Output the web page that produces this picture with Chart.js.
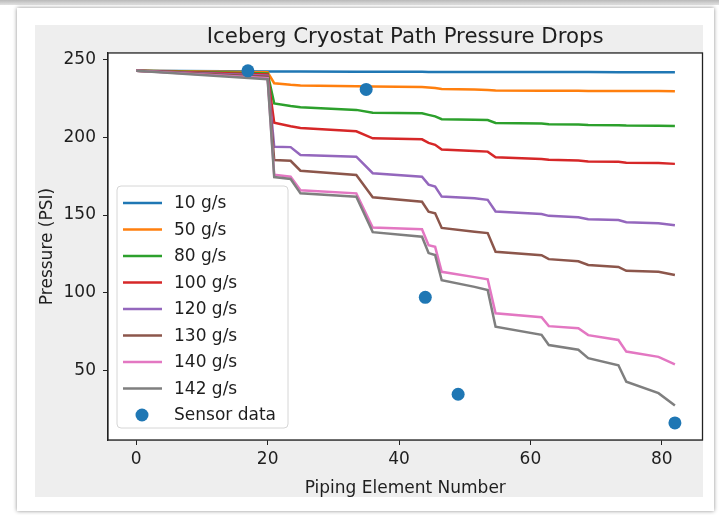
<!DOCTYPE html>
<html>
<head>
<meta charset="utf-8">
<script src="https://cdn.jsdelivr.net/npm/chart.js@4.4.1/dist/chart.umd.min.js"></script>
<style>
  html, body { margin: 0; padding: 0; background: #fff; }
  body { width: 719px; height: 515px; position: relative; overflow: hidden; }
  #topbar { position: absolute; left: 0; top: 0; width: 719px; height: 5px;
            background: linear-gradient(#b9b9b9, #e2e2e2); }
  #card { position: absolute; left: 17px; top: 8px; width: 697px; height: 503px;
          background: #fff; box-shadow: 0 0 4px rgba(0,0,0,0.45); }
  #figure { position: absolute; left: 35px; top: 25px; width: 668px; height: 472px;
            background: #eeeeee; }
  #figure canvas { display: block; }
</style>
</head>
<body>
<div id="topbar"></div>
<div id="card"></div>
<div id="figure"><canvas id="pressure-chart" width="674" height="474"></canvas></div>
<script>
// piping element numbers where the curves bend
const elementX = [0, 20, 21, 23.5, 25, 33.5, 36, 43.5, 44.5, 45.5, 46.5, 51.5,
    53.5, 54.7, 61.7, 62.8, 67.3, 68.8, 73.4, 74.6, 79.5, 82];

const flow10 = [243, 242.6, 242.5, 242.5, 242.5, 242.4, 242.4, 242.4, 242.3, 242.3,
    242.3, 242.3, 242.3, 242.2, 242.2, 242.2, 242.2, 242.2, 242.1, 242.1, 242.1, 242.1];
const flow50 = [243, 242, 235, 234, 233.6, 233, 232.8, 232.5, 232.2, 231.9, 231.2,
    230.9, 230.7, 230.3, 230.2, 230.1, 230.1, 230, 230, 229.9, 229.9, 229.8];
const flow80 = [243, 241.2, 222, 220.3, 219.5, 217.8, 216, 215.6, 214.6, 213.6, 211.8,
    211.5, 211.3, 209.4, 209, 208.6, 208.4, 208.1, 207.9, 207.7, 207.6, 207.4];
const flow100 = [243, 240.6, 209.6, 207.2, 206.2, 204, 199.5, 198.8, 196.5, 195.3,
    192.2, 191.3, 190.9, 187.3, 186.2, 185.6, 185.2, 184.6, 184.3, 183.8, 183.5, 183];
const flow120 = [243, 239.8, 194, 193.8, 188.7, 187.6, 177, 174.7, 169.6, 168.4,
    161.9, 160.8, 159.8, 152.3, 150.7, 149.5, 148.6, 147.3, 146.8, 145.4, 144.7, 143.5];
const flow130 = [243, 239.2, 185.5, 185, 178.6, 175.8, 161.5, 158.6, 152.2, 151.1,
    141.7, 139.3, 138.4, 126.3, 124.1, 121.6, 120.2, 117.8, 116.6, 114.1, 113.4, 111.3];
const flow140 = [243, 238.3, 176, 174.7, 166, 164, 142, 140.8, 130.6, 129.5, 113.4,
    110, 108.6, 86.7, 84.2, 78.4, 77.1, 72.6, 69.5, 62, 58.6, 53.8];
const flow142 = [243, 237.6, 174.5, 173.3, 164, 161.8, 139, 136, 125.5, 124.2, 108,
    103.7, 101.6, 78, 72.8, 66.2, 63.2, 57.8, 53.2, 42.6, 35.2, 27.2];

const sensorX = [17, 35, 44, 49, 82];
const sensorPsi = [243, 231, 97, 34.5, 16];

const seriesLabels = ['10 g/s', '50 g/s', '80 g/s', '100 g/s', '120 g/s', '130 g/s',
    '140 g/s', '142 g/s'];
const seriesColors = ['#1f77b4', '#ff7f0e', '#2ca02c', '#d62728', '#9467bd', '#8c564b',
    '#e377c2', '#7f7f7f'];
const allSeries = [flow10, flow50, flow80, flow100, flow120, flow130, flow140, flow142];

const xTicks = [0, 20, 40, 60, 80];
const yTicks = [50, 100, 150, 200, 250];

const FONT = '"DejaVu Sans", sans-serif';
const TEXT = '#1e1e1e';

const lineSets = allSeries.map((ys, i) => ({
    type: 'line',
    label: seriesLabels[i],
    data: elementX.map((x, j) => ({ x: x, y: ys[j] })),
    borderColor: seriesColors[i],
    backgroundColor: seriesColors[i],
    borderWidth: 2.5,
    pointRadius: 0,
    tension: 0,
    order: allSeries.length - i
}));

const sensorSet = {
    type: 'scatter',
    label: 'Sensor data',
    data: sensorX.map((x, j) => ({ x: x, y: sensorPsi[j] })),
    backgroundColor: '#1f77b4',
    borderWidth: 0,
    pointRadius: 6.5,
    order: 0
};

// white axes face plus a full box frame, like matplotlib spines
const axesBox = {
    id: 'axesBox',
    beforeDatasetsDraw(chart) {
        const a = chart.chartArea, ctx = chart.ctx;
        ctx.save();
        ctx.fillStyle = '#ffffff';
        ctx.fillRect(a.left, a.top, a.right - a.left, a.bottom - a.top);
        ctx.restore();
    },
    afterDatasetsDraw(chart) {
        const a = chart.chartArea, ctx = chart.ctx;
        ctx.save();
        ctx.strokeStyle = '#222';
        ctx.lineWidth = 1.3;
        ctx.strokeRect(a.left, a.top, a.right - a.left, a.bottom - a.top);
        ctx.restore();
    }
};

// legend box in the lower left of the plot
const innerLegend = {
    id: 'innerLegend',
    afterDraw(chart) {
        const a = chart.chartArea, ctx = chart.ctx;
        const w = 171, h = 242;
        const left = a.left + 9, top = a.bottom - 12 - h;
        ctx.save();
        ctx.beginPath();
        ctx.roundRect(left, top, w, h, 4);
        ctx.fillStyle = 'rgba(255,255,255,0.85)';
        ctx.fill();
        ctx.strokeStyle = '#d6d6d6';
        ctx.lineWidth = 1;
        ctx.stroke();
        ctx.font = '17px ' + FONT;
        ctx.textBaseline = 'middle';
        const entries = lineSets.concat([sensorSet]);
        entries.forEach((ds, i) => {
            const y = top + 17 + i * 26.5;
            if (ds.type === 'line') {
                ctx.strokeStyle = ds.borderColor;
                ctx.lineWidth = 2.5;
                ctx.beginPath();
                ctx.moveTo(left + 6, y);
                ctx.lineTo(left + 45, y);
                ctx.stroke();
            } else {
                ctx.fillStyle = ds.backgroundColor;
                ctx.beginPath();
                ctx.arc(left + 25, y, 6.5, 0, Math.PI * 2);
                ctx.fill();
            }
            ctx.fillStyle = TEXT;
            ctx.fillText(ds.label, left + 57, y + 1);
        });
        ctx.restore();
    }
};

const pressureChart = new Chart(document.getElementById('pressure-chart'), {
    type: 'line',
    data: { datasets: lineSets.concat([sensorSet]) },
    options: {
        responsive: false,
        animation: false,
        events: [],
        layout: { padding: { left: 0, right: 0, top: 0, bottom: 0 } },
        scales: {
            x: {
                type: 'linear',
                min: -4.3,
                max: 86.2,
                afterBuildTicks: s => { s.ticks = xTicks.map(v => ({ value: v })); },
                afterFit: s => { s.height = 59; s.paddingLeft = 0; s.paddingRight = 0; },
                grid: { display: true, drawOnChartArea: false, drawTicks: true,
                        tickLength: 5, color: '#222' },
                border: { display: true, color: '#222', width: 1.3 },
                ticks: { font: { family: FONT, size: 17 }, color: TEXT, padding: 4,
                         maxRotation: 0 },
                title: { display: true, text: 'Piping Element Number',
                         font: { family: FONT, size: 17 }, color: TEXT,
                         padding: { top: 0, bottom: 0 } }
            },
            y: {
                min: 5,
                max: 254.5,
                afterBuildTicks: s => { s.ticks = yTicks.map(v => ({ value: v })); },
                afterFit: s => { s.width = 73; s.paddingTop = 0; s.paddingBottom = 0; },
                grid: { display: true, drawOnChartArea: false, drawTicks: true,
                        tickLength: 5, color: '#222' },
                border: { display: true, color: '#222', width: 1.3 },
                ticks: { font: { family: FONT, size: 17 }, color: TEXT, padding: 7 },
                title: { display: true, text: 'Pressure (PSI)',
                         font: { family: FONT, size: 17 }, color: TEXT,
                         padding: { top: 2, bottom: 0 } }
            }
        },
        plugins: {
            legend: { display: false },
            tooltip: { enabled: false },
            title: {
                display: true,
                text: 'Iceberg Cryostat Path Pressure Drops',
                fullSize: false,
                font: { family: FONT, size: 21.3, weight: 'normal' },
                color: TEXT,
                padding: { top: 0, bottom: 2.4 }
            }
        }
    },
    plugins: [axesBox, innerLegend]
});
</script>
</body>
</html>
